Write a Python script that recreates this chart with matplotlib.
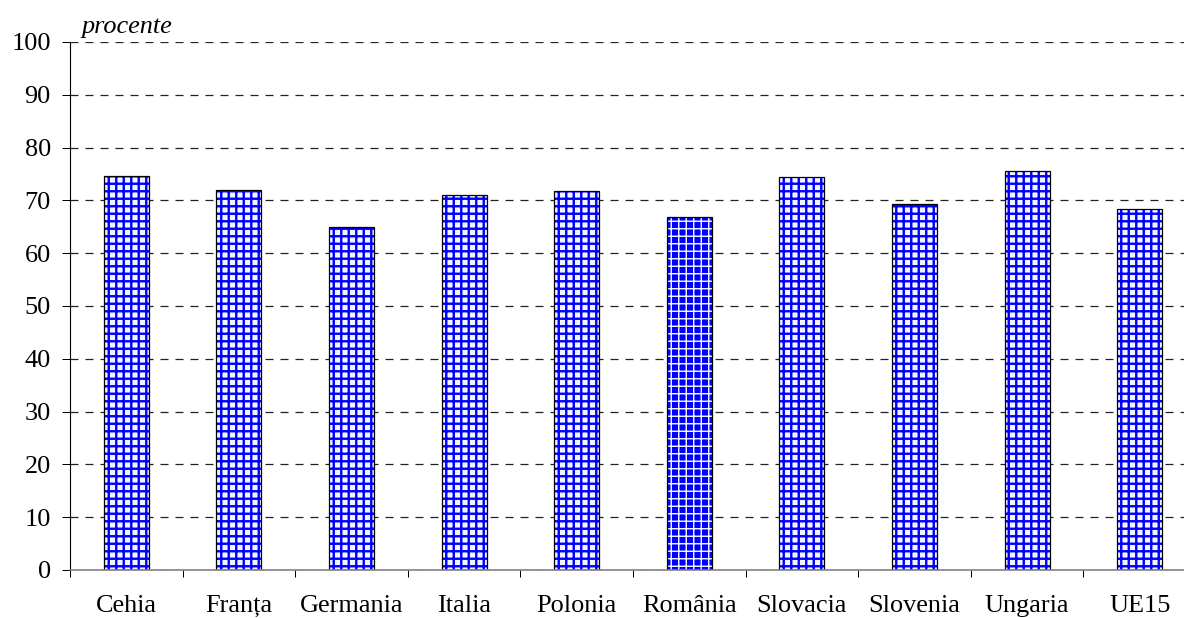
import matplotlib
matplotlib.use("Agg")
import matplotlib.pyplot as plt
from matplotlib.ticker import FixedLocator, MultipleLocator

# Data
categories = ["Cehia", "Franța", "Germania", "Italia", "Polonia",
              "România", "Slovacia", "Slovenia", "Ungaria", "UE15"]
values = [74.7, 71.9, 65.0, 71.0, 71.8, 66.8, 74.4, 69.4, 75.5, 68.3]
highlight = "România"
y_unit_label = "procente"

DPI = 90
W, H = 1184, 618
plt.rcParams["font.family"] = ["Liberation Serif", "DejaVu Serif"]

fig = plt.figure(figsize=(W / DPI, H / DPI), dpi=DPI)
fig.patch.set_facecolor("white")

# Axes extends slightly past the right edge of the canvas
left_px, right_px, top_px, bottom_px = 70, 1196, 42, 570
ax = fig.add_axes([left_px / W, 1 - bottom_px / H,
                   (right_px - left_px) / W, (bottom_px - top_px) / H])

x = list(range(len(categories)))
bar_w = 0.4
blue = "#0000ff"

for xi, val, cat in zip(x, values, categories):
    if cat == highlight:
        face, hatch_col, hatch_lw = blue, "white", 1.1
    else:
        face, hatch_col, hatch_lw = "#f4f4ff", blue, 1.9
    with plt.rc_context({"hatch.linewidth": hatch_lw}):
        ax.bar(xi, val, width=bar_w, color=face, edgecolor=hatch_col,
               linewidth=0, hatch="++", zorder=3)
    ax.bar(xi, val, width=bar_w, fill=False, edgecolor="black",
           linewidth=1.0, zorder=4)

ax.set_xlim(-0.5, len(categories) - 0.5)
ax.set_ylim(0, 100)

# Y axis
ax.yaxis.set_major_locator(MultipleLocator(10))
ax.tick_params(axis="y", direction="out", length=6.4, width=0.8,
               pad=9, labelsize=21, colors="black")
ax.grid(axis="y", color="#222222", linestyle=(0, (6.4, 5.6)), linewidth=1.0,
        zorder=1)
ax.set_axisbelow(True)

# X axis: labels centred on bars, tick marks between categories
ax.set_xticks(x)
ax.set_xticklabels(categories)
ax.tick_params(axis="x", which="major", length=0, pad=20, labelsize=21)
ax.xaxis.set_minor_locator(FixedLocator([i - 0.5 for i in range(len(categories) + 1)]))
ax.tick_params(axis="x", which="minor", direction="out", length=5.6,
               width=0.8, color="black")

for side in ("top", "right"):
    ax.spines[side].set_visible(False)
ax.spines["left"].set_color("black")
ax.spines["left"].set_linewidth(0.9)
ax.spines["bottom"].set_color("#808080")
ax.spines["bottom"].set_linewidth(1.3)
ax.spines["bottom"].set_zorder(5)

fig.text(82 / W, 1 - 33 / H, y_unit_label, fontsize=21, fontstyle="italic",
         ha="left", va="baseline")

fig.savefig("out.png", dpi=DPI, facecolor="white")
